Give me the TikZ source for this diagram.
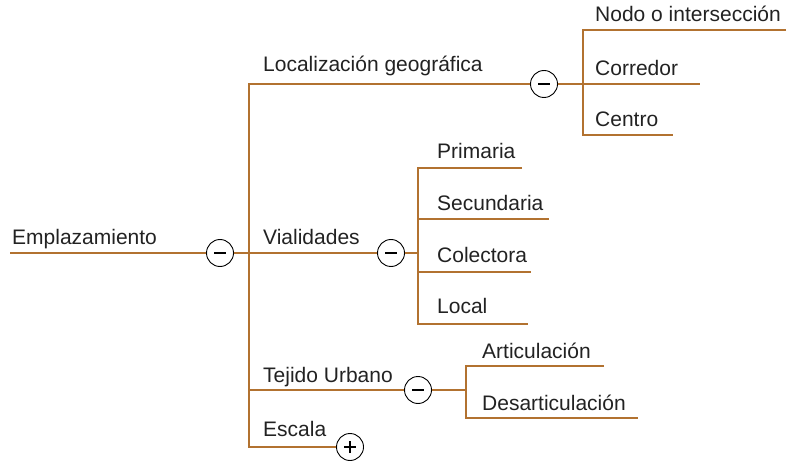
\documentclass[tikz,border=0pt]{standalone}
\usepackage{fontspec}
\setmainfont{Liberation Sans}
\definecolor{branch}{RGB}{178,114,48}
\definecolor{txt}{RGB}{34,34,34}
\tikzset{
  br/.style={draw=branch, line width=2.8pt},
  lbl/.style={anchor=base west, inner sep=0pt, text=txt, font=\fontsize{21}{25}\selectfont},
  tog/.style={circle, draw=black, line width=0.9pt, fill=white, minimum size=27pt, inner sep=0pt},
  minus/.style={tog, path picture={\draw[line width=1.3pt] ([xshift=-6pt]path picture bounding box.center) -- ([xshift=6pt]path picture bounding box.center);}},
  plus/.style={tog, path picture={\draw[line width=1.3pt] ([xshift=-6pt]path picture bounding box.center) -- ([xshift=6pt]path picture bounding box.center) ([yshift=-6pt]path picture bounding box.center) -- ([yshift=6pt]path picture bounding box.center);}}
}
\begin{document}
\begin{tikzpicture}[x=1pt,y=-1pt]
\useasboundingbox (0,0) rectangle (792,462);
% coordinates
\coordinate (r0) at (10,253);
\coordinate (j0) at (249,253);
\coordinate (v0t) at (249,84);
\coordinate (v0b) at (249,447);
\coordinate (jt) at (249,390);
\coordinate (j1) at (583,84);
\coordinate (v1t) at (583,30);
\coordinate (v1b) at (583,135);
\coordinate (e11) at (786,30);
\coordinate (e12) at (700,84);
\coordinate (e13) at (673,135);
\coordinate (j2) at (418,253);
\coordinate (v2t) at (418,168);
\coordinate (v2b) at (418,324);
\coordinate (v2a) at (418,219);
\coordinate (v2c) at (418,272);
\coordinate (e21) at (522,168);
\coordinate (e22) at (549,219);
\coordinate (e23) at (531,272);
\coordinate (e24) at (528,324);
\coordinate (j3) at (466,390);
\coordinate (v3t) at (466,366);
\coordinate (v3b) at (466,418);
\coordinate (e31) at (604,366);
\coordinate (e32) at (638,418);
% toggle circles
\node[minus] (c0) at (220,253) {};
\node[minus] (c1) at (544,84) {};
\node[minus] (c2) at (391,253) {};
\node[minus] (c3) at (418,390) {};
\node[plus]  (c4) at (350,447) {};
% connectors
\draw[br] (r0) -- (c0);
\draw[br] (c0) -- (j0);
\draw[br, line cap=rect] (v0t) -- (v0b);
\draw[br] (v0t) -- (c1);
\draw[br] (j0) -- (c2);
\draw[br] (jt) -- (c3);
\draw[br] (v0b) -- (c4);
\draw[br] (c1) -- (j1);
\draw[br] (e11) -- (v1t) -- (v1b) -- (e13);
\draw[br] (j1) -- (e12);
\draw[br] (c2) -- (j2);
\draw[br] (e21) -- (v2t) -- (v2b) -- (e24);
\draw[br] (v2a) -- (e22);
\draw[br] (v2c) -- (e23);
\draw[br] (c3) -- (j3);
\draw[br] (e31) -- (v3t) -- (v3b) -- (e32);
% labels
\node[lbl] (t0) at (12,245) {Emplazamiento};
\node[lbl] (t1) at (263,72) {Localización geográfica};
\node[lbl] (t2) at (263,245) {Vialidades};
\node[lbl] (t3) at (263,382) {Tejido Urbano};
\node[lbl] (t4) at (263,436) {Escala};
\node[lbl] (t11) at (595,22) {Nodo o intersección};
\node[lbl] (t12) at (595,76) {Corredor};
\node[lbl] (t13) at (595,127) {Centro};
\node[lbl] (t21) at (437,159) {Primaria};
\node[lbl] (t22) at (437,211) {Secundaria};
\node[lbl] (t23) at (437,262) {Colectora};
\node[lbl] (t24) at (437,313) {Local};
\node[lbl] (t31) at (482,358) {Articulación};
\node[lbl] (t32) at (482,410) {Desarticulación};
\end{tikzpicture}
\end{document}
